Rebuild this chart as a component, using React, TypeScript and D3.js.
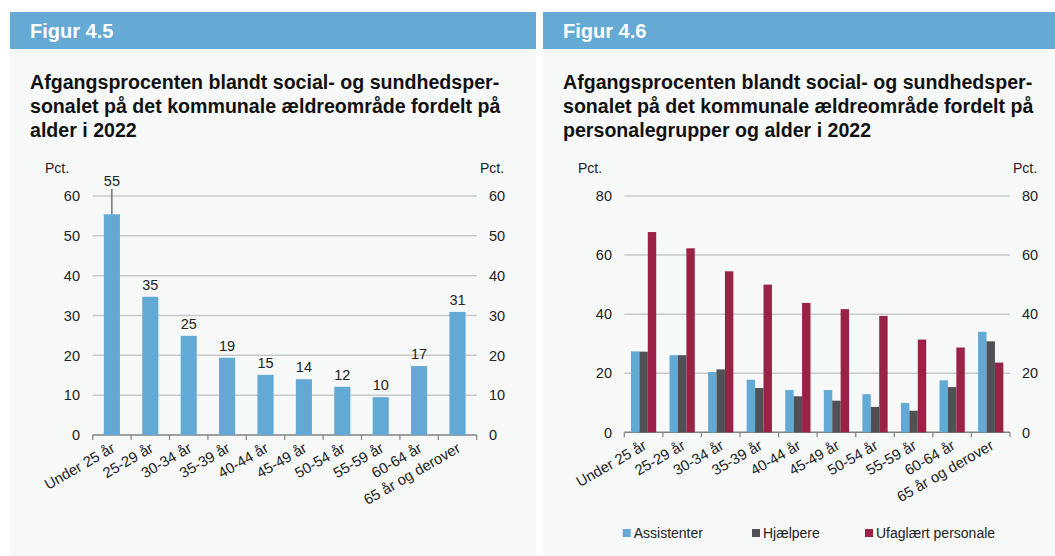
import React, { useEffect, useRef } from "react";
import * as d3 from "d3";

const ageGroups = [
  "Under 25 år", "25-29 år", "30-34 år", "35-39 år", "40-44 år",
  "45-49 år", "50-54 år", "55-59 år", "60-64 år", "65 år og derover",
];
const totalRate = [55.4, 34.7, 24.9, 19.4, 15.1, 14.0, 12.1, 9.5, 17.3, 30.9];
const assistenter = [27.4, 26.1, 20.4, 17.8, 14.3, 14.3, 12.9, 9.9, 17.6, 34.0];
const hjaelpere = [27.3, 26.1, 21.3, 15.0, 12.2, 10.7, 8.6, 7.3, 15.3, 30.8];
const ufaglaert = [67.8, 62.3, 54.5, 50.0, 43.8, 41.7, 39.4, 31.4, 28.7, 23.6];
const seriesNames = ["Assistenter", "Hjælpere", "Ufaglært personale"];
const leftTicks = [0, 10, 20, 30, 40, 50, 60];
const rightTicks = [0, 20, 40, 60, 80];

const BLUE = "#63a9d5";
const GREY = "#505055";
const RED = "#9b2247";
const FONT = "Liberation Sans, Arial, Helvetica, sans-serif";

const App: React.FC = () => {
  const svgRef = useRef<SVGSVGElement>(null);
  const width = 1055;
  const height = 556;

  useEffect(() => {
    document.body.style.margin = "0";
    const svg = d3.select(svgRef.current).attr("width", width).attr("height", height);
    svg.selectAll("*").remove();
    svg.append("rect").attr("width", width).attr("height", height).attr("fill", "#fff");

    const panels = [
      { x0: 10, x1: 536, fig: "Figur 4.5", title: ["Afgangsprocenten blandt social- og sundhedsper-", "sonalet på det kommunale ældreområde fordelt på", "alder i 2022"] },
      { x0: 543, x1: 1055, fig: "Figur 4.6", title: ["Afgangsprocenten blandt social- og sundhedsper-", "sonalet på det kommunale ældreområde fordelt på", "personalegrupper og alder i 2022"] },
    ];
    panels.forEach((p) => {
      svg.append("rect").attr("x", p.x0).attr("y", 12).attr("width", p.x1 - p.x0).attr("height", height - 12).attr("fill", "#f7f9f9");
      svg.append("rect").attr("x", p.x0).attr("y", 12).attr("width", p.x1 - p.x0).attr("height", 37).attr("fill", "#64aad5");
      svg.append("text").attr("x", p.x0 + 20).attr("y", 38).attr("fill", "#fff")
        .attr("font-family", FONT).attr("font-weight", "bold").attr("font-size", 20).text(p.fig);
      p.title.forEach((line, i) => {
        svg.append("text").attr("x", p.x0 + 20).attr("y", 89 + i * 24).attr("fill", "#111")
          .attr("font-family", FONT).attr("font-weight", "bold").attr("font-size", 19.6).text(line);
      });
    });

    const drawFrame = (
      g: d3.Selection<SVGGElement, unknown, null, undefined>,
      xb: d3.ScaleBand<string>, y: d3.ScaleLinear<number, number>, ticks: number[],
      left: number, right: number, labelL: number, labelR: number, pctL: number, pctR: number,
    ) => {
      g.selectAll(".grid").data(ticks.filter((t) => t > 0)).join("line")
        .attr("x1", left).attr("x2", right).attr("y1", (d) => y(d)).attr("y2", (d) => y(d))
        .attr("stroke", "#c8c8c8").attr("stroke-width", 1.5);
      [labelL, labelR].forEach((lx, i) => {
        g.append("g").selectAll("text").data(ticks).join("text")
          .attr("x", lx).attr("y", (d) => y(d)).attr("dy", "0.36em")
          .attr("text-anchor", i === 0 ? "end" : "start")
          .attr("font-family", FONT).attr("font-size", 14.5).attr("fill", "#222").text((d) => d);
      });
      [pctL, pctR].forEach((px) => {
        g.append("text").attr("x", px).attr("y", 173).attr("font-family", FONT)
          .attr("font-size", 14).attr("fill", "#222").text("Pct.");
      });
      const y0 = y(0);
      g.append("line").attr("x1", left).attr("x2", right).attr("y1", y0).attr("y2", y0)
        .attr("stroke", "#808080").attr("stroke-width", 1.5);
      const bounds = [...ageGroups.map((a) => xb(a)!), right];
      g.selectAll(".tick").data(bounds).join("line")
        .attr("x1", (d) => d).attr("x2", (d) => d).attr("y1", y0).attr("y2", y0 + 5)
        .attr("stroke", "#808080").attr("stroke-width", 1.2);
      g.append("g").selectAll("text").data(ageGroups).join("text")
        .attr("transform", (d) => `translate(${xb(d)! + xb.bandwidth() / 2 + 4},${y0 + 16}) rotate(-30)`)
        .attr("text-anchor", "end").attr("font-family", FONT).attr("font-size", 14.8)
        .attr("fill", "#222").text((d) => d);
    };

    // Figur 4.5
    const lLeft = 92.7, lRight = 476.7;
    const xL = d3.scaleBand<string>().domain(ageGroups).range([lLeft, lRight]).padding(0);
    const xLBar = d3.scaleBand<string>().domain(ageGroups).range([lLeft, lRight])
      .paddingInner(0.58).paddingOuter(0.29);
    const yL = d3.scaleLinear().domain([0, 60]).range([435, 196]);
    const gL = svg.append("g");
    drawFrame(gL, xL, yL, leftTicks, lLeft, lRight, 80, 489, 45, 480);
    gL.append("g").selectAll("rect").data(totalRate).join("rect")
      .attr("x", (_, i) => xLBar(ageGroups[i])!).attr("width", xLBar.bandwidth())
      .attr("y", (d) => yL(d)).attr("height", (d) => yL(0) - yL(d)).attr("fill", BLUE);
    const fmt = d3.format(".0f");
    gL.append("g").selectAll("text").data(totalRate).join("text")
      .attr("x", (_, i) => xL(ageGroups[i])! + xL.bandwidth() / 2)
      .attr("y", (d, i) => (i === 0 ? 186 : yL(d) - 7))
      .attr("text-anchor", "middle").attr("font-family", FONT).attr("font-size", 14.5)
      .attr("fill", "#222").text((d) => fmt(d));
    const cx0 = xL(ageGroups[0])! + xL.bandwidth() / 2;
    gL.append("line").attr("x1", cx0).attr("x2", cx0).attr("y1", 189).attr("y2", yL(totalRate[0]))
      .attr("stroke", "#333").attr("stroke-width", 1);

    // Figur 4.6
    const rLeft = 624.3, rRight = 1010;
    const xR = d3.scaleBand<string>().domain(ageGroups).range([rLeft, rRight]).padding(0);
    const xRGroup = d3.scaleBand<string>().domain(ageGroups).range([rLeft, rRight])
      .paddingInner(0.345).paddingOuter(0.1725);
    const xSub = d3.scaleBand<string>().domain(seriesNames).range([0, xRGroup.bandwidth()]);
    const yR = d3.scaleLinear().domain([0, 80]).range([432.3, 196]);
    const gR = svg.append("g");
    drawFrame(gR, xR, yR, rightTicks, rLeft, rRight, 612, 1022, 578, 1013);
    const series = [assistenter, hjaelpere, ufaglaert];
    const colors = [BLUE, GREY, RED];
    series.forEach((vals, s) => {
      gR.append("g").selectAll("rect").data(vals).join("rect")
        .attr("x", (_, i) => xRGroup(ageGroups[i])! + xSub(seriesNames[s])!)
        .attr("width", xSub.bandwidth())
        .attr("y", (d) => yR(d)).attr("height", (d) => yR(0) - yR(d)).attr("fill", colors[s]);
    });
    const legendX = [622.7, 752, 865];
    seriesNames.forEach((name, s) => {
      gR.append("rect").attr("x", legendX[s]).attr("y", 529).attr("width", 8).attr("height", 8).attr("fill", colors[s]);
      gR.append("text").attr("x", legendX[s] + 11).attr("y", 538).attr("font-family", FONT)
        .attr("font-size", 14).attr("fill", "#222").text(name);
    });
  }, []);

  return <svg ref={svgRef} width={width} height={height} style={{ display: "block" }}></svg>;
};

export default App;
